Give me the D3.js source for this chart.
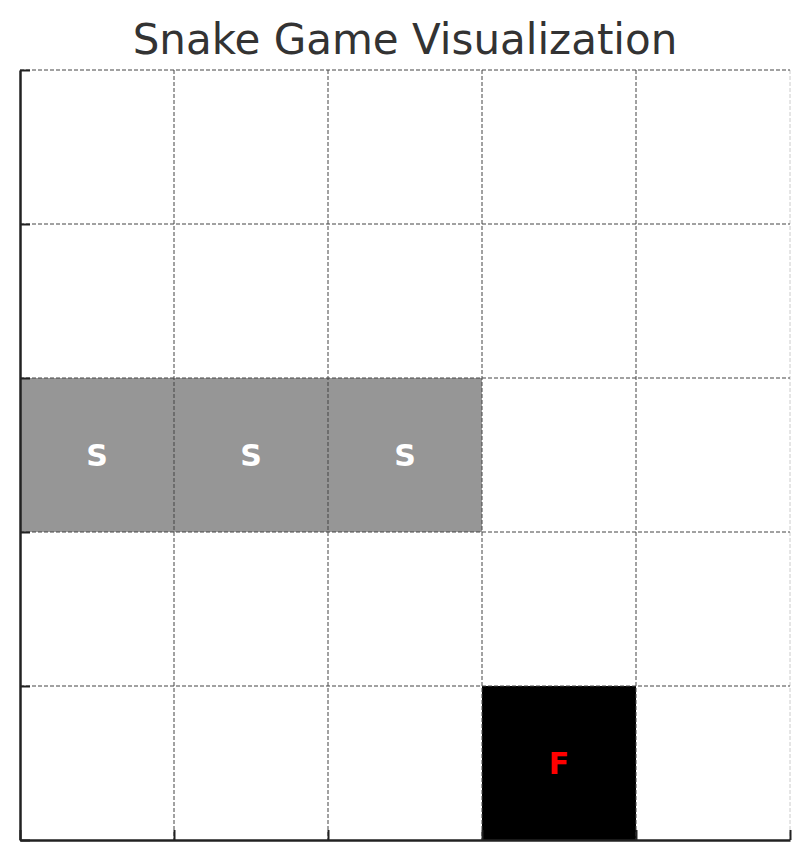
<!DOCTYPE html>
<html><head><meta charset="utf-8">
<script src="https://cdn.jsdelivr.net/npm/d3@7"></script>
<style>body{margin:0;background:#fff}</style>
</head><body>
<svg width="809" height="860"></svg>
<script>
var gridSize = 5;
var ticks = [0, 1, 2, 3, 4, 5];
// cells as [col, row] with row 0 at the bottom
var snake = [[0, 2], [1, 2], [2, 2]];
var food = [[3, 0]];

var plotLeft = 20, plotRight = 790, plotTop = 70, plotBottom = 840;
var svg = d3.select('svg');

var x = d3.scaleLinear().domain([0, gridSize]).range([plotLeft, plotRight]);
var y = d3.scaleLinear().domain([0, gridSize]).range([plotBottom, plotTop]);

// cells
svg.selectAll('rect.snake').data(snake).enter().append('rect')
  .attr('x', d => x(d[0])).attr('y', d => y(d[1] + 1))
  .attr('width', x(1) - x(0)).attr('height', y(0) - y(1))
  .attr('fill', '#969696');
svg.selectAll('rect.food').data(food).enter().append('rect')
  .attr('x', d => x(d[0])).attr('y', d => y(d[1] + 1))
  .attr('width', x(1) - x(0)).attr('height', y(0) - y(1))
  .attr('fill', '#000');

// dashed grid
var grid = svg.append('g').attr('stroke', '#444').attr('stroke-width', 1).attr('stroke-dasharray', '4,2');
grid.selectAll('line.v').data(ticks.slice(1)).enter().append('line')
  .attr('x1', d => x(d)).attr('x2', d => x(d)).attr('y1', plotTop).attr('y2', plotBottom)
  .attr('stroke', d => d === gridSize ? '#ccc' : '#444');
grid.selectAll('line.h').data(ticks.slice(1)).enter().append('line')
  .attr('y1', d => y(d)).attr('y2', d => y(d)).attr('x1', plotLeft).attr('x2', plotRight);

// labels
svg.selectAll('text.s').data(snake).enter().append('text')
  .attr('x', d => x(d[0] + 0.5)).attr('y', d => y(d[1] + 0.5))
  .attr('dy', '0.35em').attr('text-anchor', 'middle')
  .style('font', 'bold 30px "DejaVu Sans", sans-serif').attr('fill', '#fff').text('S');
svg.selectAll('text.f').data(food).enter().append('text')
  .attr('x', d => x(d[0] + 0.5)).attr('y', d => y(d[1] + 0.5))
  .attr('dy', '0.35em').attr('text-anchor', 'middle')
  .style('font', 'bold 30px "DejaVu Sans", sans-serif').attr('fill', 'red').text('F');

// axes, ticks pointing inward, no labels
svg.append('g').attr('transform', 'translate(' + plotLeft + ',0)')
  .call(d3.axisLeft(y).tickValues(ticks).tickSize(-10).tickSizeOuter(0).tickFormat(''))
  .call(g => g.selectAll('line').attr('stroke', '#222').attr('stroke-width', 2))
  .call(g => g.select('.domain').attr('stroke', '#222').attr('stroke-width', 2.5));
svg.append('g').attr('transform', 'translate(0,' + plotBottom + ')')
  .call(d3.axisBottom(x).tickValues(ticks).tickSize(-10).tickSizeOuter(0).tickFormat(''))
  .call(g => g.selectAll('line').attr('stroke', '#222').attr('stroke-width', 2))
  .call(g => g.select('.domain').attr('stroke', '#222').attr('stroke-width', 2.5));

svg.append('text').attr('x', 405).attr('y', 54).attr('text-anchor', 'middle')
  .style('font', '42px "DejaVu Sans", sans-serif').attr('fill', '#333')
  .text('Snake Game Visualization');
</script>
</body></html>
